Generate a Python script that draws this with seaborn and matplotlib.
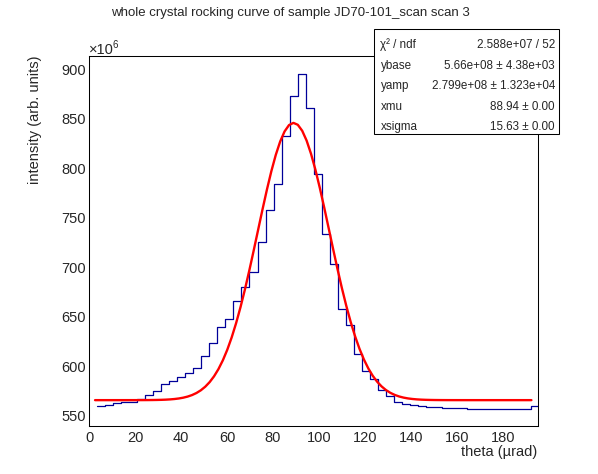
import numpy as np
import pandas as pd
import matplotlib
matplotlib.use("Agg")
import matplotlib.pyplot as plt
from matplotlib.patches import Rectangle
from matplotlib.ticker import MultipleLocator
import seaborn as sns

# ---------------- data ----------------
bin_start = 3.25          # lower edge of first bin (urad)
bin_width = 3.5           # bin width (urad)
counts = [560.1, 561.5, 562.8, 563.9, 564.5, 567.5, 571.0, 575.0, 582.4, 585.8,
          589.5, 593.6, 598.3, 610.1, 623.6, 639.6, 647.7, 665.9, 680.0, 695.2,
          726.1, 757.8, 784.0, 832.5, 872.9, 895.2, 860.8, 794.1, 733.8, 703.5,
          658.1, 641.6, 612.6, 595.2, 587.1, 576.3, 570.2, 564.4, 561.8, 560.8,
          559.8, 558.8, 558.8, 557.8, 557.8, 557.8, 556.8, 556.8, 556.8, 556.8,
          556.8, 556.8, 556.8, 556.8, 559.8, 559.8]   # x 1e6

# fit parameters shown in the stats box
ybase = 566.0
yamp = 279.9
xmu = 88.94
xsigma = 15.63
fit_range = (2.5, 192.5)

stat_names = ["\u03c7\u00b2 / ndf", "ybase", "yamp", "xmu", "xsigma"]
stat_values = ["2.588e+07 / 52", "5.66e+08 \u00b1 4.38e+03",
               "2.799e+08 \u00b1 1.323e+04", "88.94 \u00b1 0.00", "15.63 \u00b1 0.00"]

title = "whole crystal rocking curve of sample JD70-101_scan scan 3"
xlabel = "theta (\u00b5rad)"
ylabel = "intensity (arb. units)"

# ---------------- figure ----------------
sns.set_style("white")
plt.rcParams["font.family"] = ["Liberation Sans", "DejaVu Sans"]

W, H = 598, 474
fig = plt.figure(figsize=(W / 100, H / 100), dpi=100)

def fx(px):
    return px / W

def fy(py):
    return 1 - py / H

ax_l, ax_r, ax_t, ax_b = 89.3, 538.3, 55.7, 426.0
ax = fig.add_axes([fx(ax_l), fy(ax_b), fx(ax_r) - fx(ax_l), fy(ax_t) - fy(ax_b)])

edges = bin_start + bin_width * np.arange(len(counts) + 1)
hist_df = pd.DataFrame({"x": edges, "y": list(counts) + [counts[-1]]})
sns.lineplot(data=hist_df, x="x", y="y", ax=ax, drawstyle="steps-post",
             estimator=None, sort=False, color="#000099", linewidth=0.9)

xf = np.linspace(fit_range[0], fit_range[1], 100)
fit_df = pd.DataFrame({"x": xf,
                       "y": ybase + yamp * np.exp(-0.5 * ((xf - xmu) / xsigma) ** 2)})
sns.lineplot(data=fit_df, x="x", y="y", ax=ax, estimator=None, sort=False,
             color="#ff0000", linewidth=1.7)

ax.set_xlim(0, 195.5)
ax.set_ylim(539.9, 913.7)
ax.set_xlabel("")
ax.set_ylabel("")

for s in ax.spines.values():
    s.set_linewidth(0.75)
    s.set_color("black")

ax.xaxis.set_major_locator(MultipleLocator(20))
ax.xaxis.set_minor_locator(MultipleLocator(5))
ax.yaxis.set_major_locator(MultipleLocator(50))
ax.yaxis.set_minor_locator(MultipleLocator(10))
ax.tick_params(axis="x", which="major", direction="in", length=7.9, width=0.75,
               labelsize=10.5, pad=3.5, top=False)
ax.tick_params(axis="x", which="minor", direction="in", length=4.0, width=0.75, top=False)
ax.tick_params(axis="y", which="major", direction="in", length=9.7, width=0.75,
               labelsize=10.5, pad=2.6, right=False)
ax.tick_params(axis="y", which="minor", direction="in", length=4.8, width=0.75, right=False)

# exponent label
fig.text(fx(88.5), fy(57.0), "\u00d710", fontsize=10.5, ha="left", va="bottom")
fig.text(fx(112.5), fy(50.5), "6", fontsize=7.0, ha="left", va="bottom")

# titles
fig.text(fx(290), fy(13), title, fontsize=9.5, ha="center", va="center")
fig.text(fx(537.3), fy(451.7), xlabel, fontsize=10.5, ha="right", va="center")
fig.text(fx(35), fy(55.0), ylabel, fontsize=10.5, rotation=90, ha="center", va="top")

# stats box
bx0, by0, bx1, by1 = 374.0, 29.0, 559.3, 134.3
fig.add_artist(Rectangle((fx(bx0), fy(by1)), fx(bx1) - fx(bx0), fy(by0) - fy(by1),
                         transform=fig.transFigure, facecolor="white",
                         edgecolor="black", linewidth=0.75, zorder=5))
row_y = [45, 66, 86, 107, 127]
for name, val, ry in zip(stat_names, stat_values, row_y):
    fig.text(fx(380.5), fy(ry), name, fontsize=8.4, ha="left", va="center", zorder=6)
    fig.text(fx(555.0), fy(ry), val, fontsize=8.4, ha="right", va="center", zorder=6)

fig.savefig("out.png", dpi=100)
